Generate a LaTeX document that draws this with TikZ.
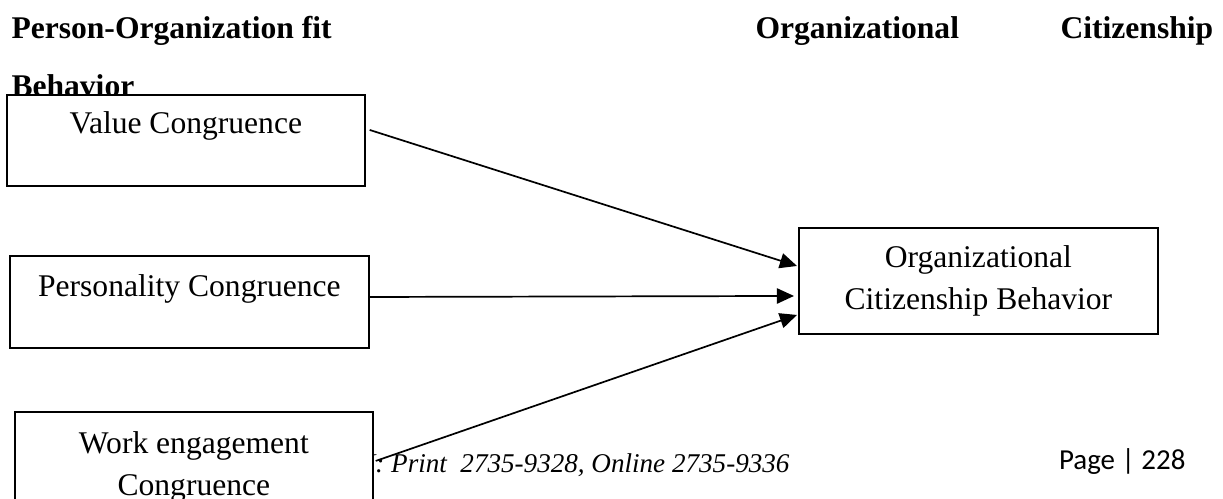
\documentclass[tikz,border=0pt]{standalone}
\usepackage{fontspec}
\setmainfont{Liberation Serif}
\newfontfamily\pagefont{Carlito}
\usetikzlibrary{arrows.meta,calc}

\begin{document}
\begin{tikzpicture}[x=0.38pt,y=-0.38pt,
  head/.style={anchor=base west,inner sep=0pt,font=\fontsize{12}{14}\selectfont\bfseries},
  box/.style={draw,line width=0.7pt,fill=white,anchor=north west,align=center,inner ysep=0pt,font=\fontsize{12}{14}\selectfont},
  arr/.style={-{Triangle[length=6.5pt,width=5.8pt]},line width=0.65pt}]
  \clip (0,0) rectangle (1223,498);
  \node[head] (headpo) at (11,38) {Person-Organization fit};
  \node[head] (headorg) at (755,38) {Organizational};
  \node[head] (headcit) at (1060,38) {Citizenship};
  \node[head] (headbeh) at (11,96) {Behavior};
  \node[anchor=base east,inner sep=0pt,font=\fontsize{10.3}{12}\selectfont\itshape] (issn) at (790,472) {ISSN: Print\ \ 2735-9328, Online 2735-9336};
  \node[anchor=base east,inner sep=0pt,font=\fontsize{11}{13}\pagefont] (page) at (1186,469) {Page | 228};
  \node[box,minimum width=136pt,text height=14.8pt,text depth=19.8pt] (value) at (6,94) {Value Congruence};
  \node[box,minimum width=136.4pt,text height=15.6pt,text depth=19.4pt] (pers) at (9,255) {Personality Congruence};
  \node[box,minimum width=136pt,minimum height=41.8pt,font=\fontsize{12}{16.3}\selectfont] (work) at (14,411) {Work engagement\\Congruence};
  \node[box,minimum width=136.4pt,minimum height=40.3pt,font=\fontsize{12}{16}\selectfont] (ocb) at (798,227) {Organizational\\Citizenship Behavior};
  \draw[arr] ($(value.east)+(4,-10.5)$) -- ($(ocb.west)+(-1,-15)$);
  \draw[arr] ($(pers.east)+(0,-5)$) -- ($(ocb.west)+(-4,15)$);
  \draw[arr] ($(work.east)+(2,-6)$) -- ($(ocb.west)+(-1,34)$);
\end{tikzpicture}
\end{document}
